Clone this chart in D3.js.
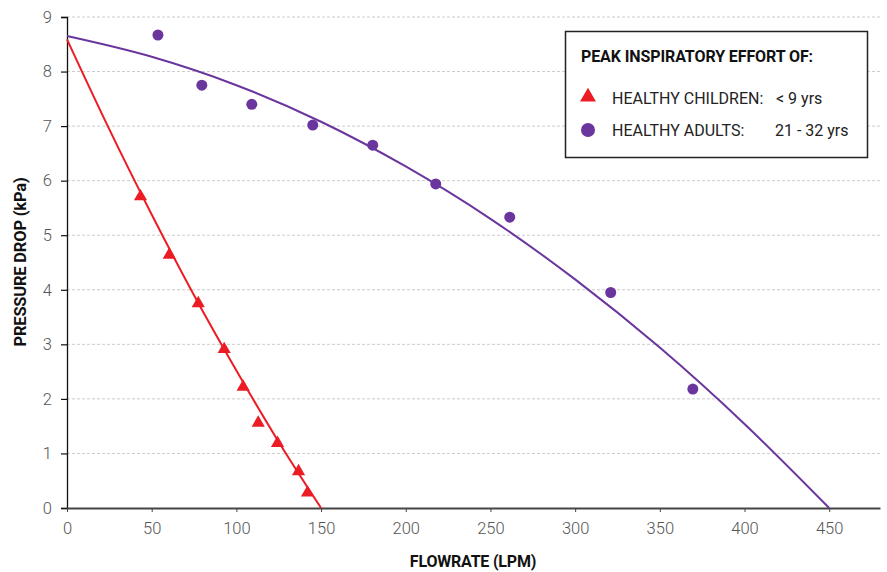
<!DOCTYPE html>
<html><head><meta charset="utf-8">
<script src="https://cdn.jsdelivr.net/npm/d3@7"></script>
<style>
body{margin:0;background:#fff;}
text{font-family:Roboto,"Noto Sans",sans-serif;}
</style></head>
<body><svg id="c" width="887" height="572"></svg>
<script>
// Data
const xTicks = [0,50,100,150,200,250,300,350,400,450];
const yTicks = [0,1,2,3,4,5,6,7,8,9];
const childFlow = [43.4,60.4,77.5,92.8,104.0,112.9,124.3,136.7,142.0];
const childDrop = [5.71,4.64,3.75,2.91,2.22,1.56,1.19,0.67,0.28];
const adultFlow = [53.7,79.6,109.1,145.1,180.5,217.7,261.4,321.0,369.5];
const adultDrop = [8.67,7.75,7.40,7.02,6.65,5.94,5.33,3.95,2.18];
// trend lines
const childFitFlow = [0,25,50,75,100,125,150];
const childFitDrop = [8.59,6.94,5.38,3.90,2.52,1.21,0];
const adultFitFlow = [0,50,100,150,200,250,300,350,400,450];
const adultFitDrop = [8.65,8.27,7.75,7.08,6.26,5.30,4.19,2.94,1.54,0];

const red = "#ec1c24", purple = "#6b359e";
const svg = d3.select("#c");
const m = {l:67, r:7, t:17, b:64};
const W = 887, H = 572;
const x = d3.scaleLinear().domain([0,480]).range([m.l, W-m.r]);
const y = d3.scaleLinear().domain([0,9]).range([H-m.b, m.t]);

// gridlines
svg.append("g").selectAll("line").data(yTicks.filter(d=>d>0)).join("line")
  .attr("x1", x(0)).attr("x2", x(480)).attr("y1", d=>y(d)).attr("y2", d=>y(d))
  .attr("stroke","#cccccc").attr("stroke-width",1).attr("stroke-dasharray","3,2");

// y axis
const ya = svg.append("g").attr("transform",`translate(${x(0)},0)`)
  .call(d3.axisLeft(y).tickValues(yTicks).tickSize(6).tickPadding(9));
ya.select(".domain").attr("stroke","#111").attr("stroke-width",1.3);
ya.selectAll(".tick line").attr("stroke","#111").attr("stroke-width",1.2);
ya.selectAll(".tick text").attr("font-size",16.5).attr("fill","#555").attr("font-weight",300);

// x axis
const xa = svg.append("g").attr("transform",`translate(0,${y(0)})`)
  .call(d3.axisBottom(x).tickValues(xTicks).tickSize(4).tickSizeOuter(0).tickPadding(10));
xa.select(".domain").attr("stroke","#444").attr("stroke-width",2);
xa.selectAll(".tick line").attr("stroke","#444").attr("stroke-width",1);
xa.selectAll(".tick text").attr("font-size",16.5).attr("fill","#555").attr("font-weight",300);

// axis titles
svg.append("text").attr("x", 473).attr("y", 567).attr("text-anchor","middle")
  .attr("font-size",16).attr("font-weight",700).attr("fill","#111").attr("letter-spacing","-0.2")
  .text("FLOWRATE (LPM)");
svg.append("text").attr("transform","translate(26,262) rotate(-90)").attr("text-anchor","middle")
  .attr("font-size",16.5).attr("font-weight",700).attr("fill","#111").attr("letter-spacing","-0.2")
  .text("PRESSURE DROP (kPa)");

// fit lines
const line = d3.line().x(d=>x(d[0])).y(d=>y(d[1])).curve(d3.curveMonotoneX);
svg.append("path").datum(adultFitFlow.map((f,i)=>[f,adultFitDrop[i]]))
  .attr("d", line).attr("fill","none").attr("stroke",purple).attr("stroke-width",2);
svg.append("path").datum(childFitFlow.map((f,i)=>[f,childFitDrop[i]]))
  .attr("d", line).attr("fill","none").attr("stroke",red).attr("stroke-width",2);

// points
const tri = d3.symbol().type(d3.symbolTriangle).size(75);
svg.append("g").selectAll("path").data(childFlow.map((f,i)=>[f,childDrop[i]])).join("path")
  .attr("d", tri).attr("transform", d=>`translate(${x(d[0])},${y(d[1])})`).attr("fill",red);
svg.append("g").selectAll("circle").data(adultFlow.map((f,i)=>[f,adultDrop[i]])).join("circle")
  .attr("cx", d=>x(d[0])).attr("cy", d=>y(d[1])).attr("r",5.5).attr("fill",purple);

// legend
const lg = svg.append("g");
lg.append("rect").attr("x",565.5).attr("y",31.5).attr("width",302).attr("height",126)
  .attr("fill","#fff").attr("stroke","#222").attr("stroke-width",1.5);
lg.append("text").attr("x",581).attr("y",62).attr("font-size",16).attr("font-weight",700)
  .attr("fill","#111").attr("letter-spacing","-0.1").text("PEAK INSPIRATORY EFFORT OF:");
lg.append("path").attr("d", d3.symbol().type(d3.symbolTriangle).size(110)())
  .attr("transform","translate(588,97)").attr("fill",red);
lg.append("circle").attr("cx",588).attr("cy",130).attr("r",7).attr("fill",purple);
const legendLabels = ["HEALTHY CHILDREN:","HEALTHY ADULTS:"];
const legendAges = ["< 9 yrs","21 - 32 yrs"];
lg.selectAll("text.l").data(legendLabels).join("text").attr("class","l")
  .attr("x",612).attr("y",(d,i)=>104+i*32).attr("font-size",16).attr("fill","#222")
  .text(d=>d);
lg.selectAll("text.a").data(legendAges).join("text").attr("class","a")
  .attr("x",(d,i)=>i===0?776:775).attr("y",(d,i)=>104+i*32).attr("font-size",16).attr("fill","#222")
  .text(d=>d);
</script></body></html>
